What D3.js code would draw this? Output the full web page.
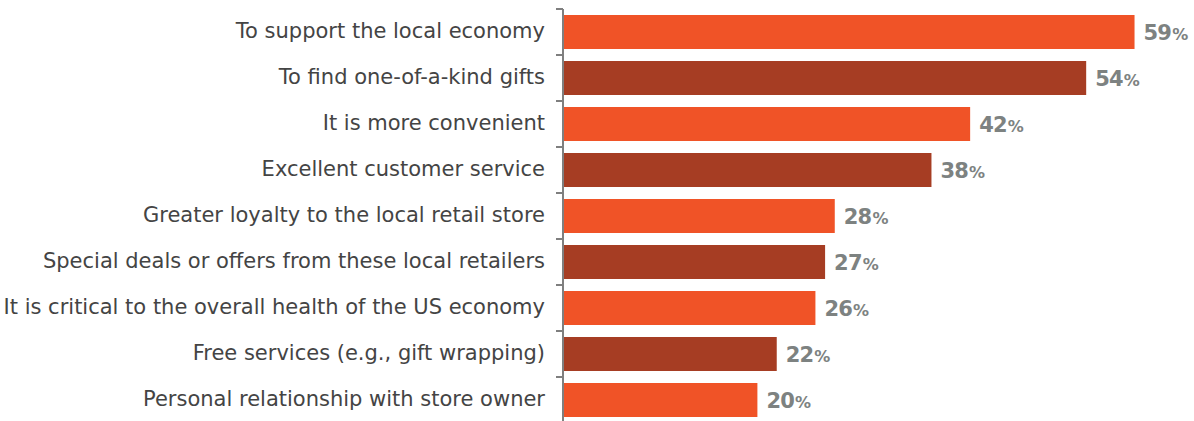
<!DOCTYPE html>
<html>
<head>
<meta charset="utf-8">
<script src="https://cdn.jsdelivr.net/npm/d3@7/dist/d3.min.js"></script>
<style>
  html, body { margin: 0; padding: 0; background: #fff; }
  svg { display: block; }
</style>
</head>
<body>
<svg id="chart" width="1194" height="421"></svg>
<script>
// Reasons for shopping at local retailers (share of respondents, %)
const categories = [
  "To support the local economy",
  "To find one-of-a-kind gifts",
  "It is more convenient",
  "Excellent customer service",
  "Greater loyalty to the local retail store",
  "Special deals or offers from these local retailers",
  "It is critical to the overall health of the US economy",
  "Free services (e.g., gift wrapping)",
  "Personal relationship with store owner"
];
const values = [59, 54, 42, 38, 28, 27, 26, 22, 20];
const barColors = ["#F05327", "#A63D23"];

const svg = d3.select("#chart");
const axisX = 563;

const y = d3.scaleBand()
  .domain(categories)
  .range([9, 423])
  .paddingInner(12 / 46)
  .paddingOuter(6 / 46);

const x = d3.scaleLinear()
  .domain([0, 60])
  .range([axisX + 1, axisX + 1 + 9.67 * 60]);

// bars
svg.append("g")
  .selectAll("rect")
  .data(values)
  .join("rect")
  .attr("x", x(0))
  .attr("y", (d, i) => y(categories[i]))
  .attr("width", d => x(d) - x(0))
  .attr("height", y.bandwidth())
  .attr("fill", (d, i) => barColors[i % 2]);

// value labels
const lbl = svg.append("g")
  .selectAll("text")
  .data(values)
  .join("text")
  .attr("x", d => x(d) + 9)
  .attr("y", (d, i) => y(categories[i]) + y.bandwidth() / 2 + 8)
  .attr("font-family", "'DejaVu Sans', sans-serif")
  .attr("font-weight", "bold")
  .attr("font-size", 21)
  .attr("fill", "#7D8281")
  .attr("letter-spacing", -0.8);
lbl.append("tspan").text(d => d);
lbl.append("tspan").attr("font-size", 16).attr("dx", 1).text("%");

// category axis with ticks at band boundaries
const axisG = svg.append("g").attr("stroke", "#7F7F7F").attr("stroke-width", 2);
const step = y.step();
const firstEdge = y(categories[0]) - y.paddingInner() * step / 2;
const boundaries = d3.range(categories.length + 1).map(i => firstEdge + i * step);
axisG.append("line")
  .attr("x1", axisX).attr("x2", axisX)
  .attr("y1", boundaries[0]).attr("y2", 421);
axisG.selectAll("line.tick")
  .data(boundaries.slice(0, categories.length))
  .join("line")
  .attr("class", "tick")
  .attr("x1", axisX - 7).attr("x2", axisX)
  .attr("y1", d => d).attr("y2", d => d);

// category labels
svg.append("g")
  .selectAll("text")
  .data(categories)
  .join("text")
  .attr("x", 545)
  .attr("y", d => y(d) + y.bandwidth() / 2 + 6)
  .attr("text-anchor", "end")
  .attr("font-family", "'DejaVu Sans', sans-serif")
  .attr("font-size", 21)
  .attr("fill", "#444444")
  .text(d => d);
</script>
</body>
</html>
